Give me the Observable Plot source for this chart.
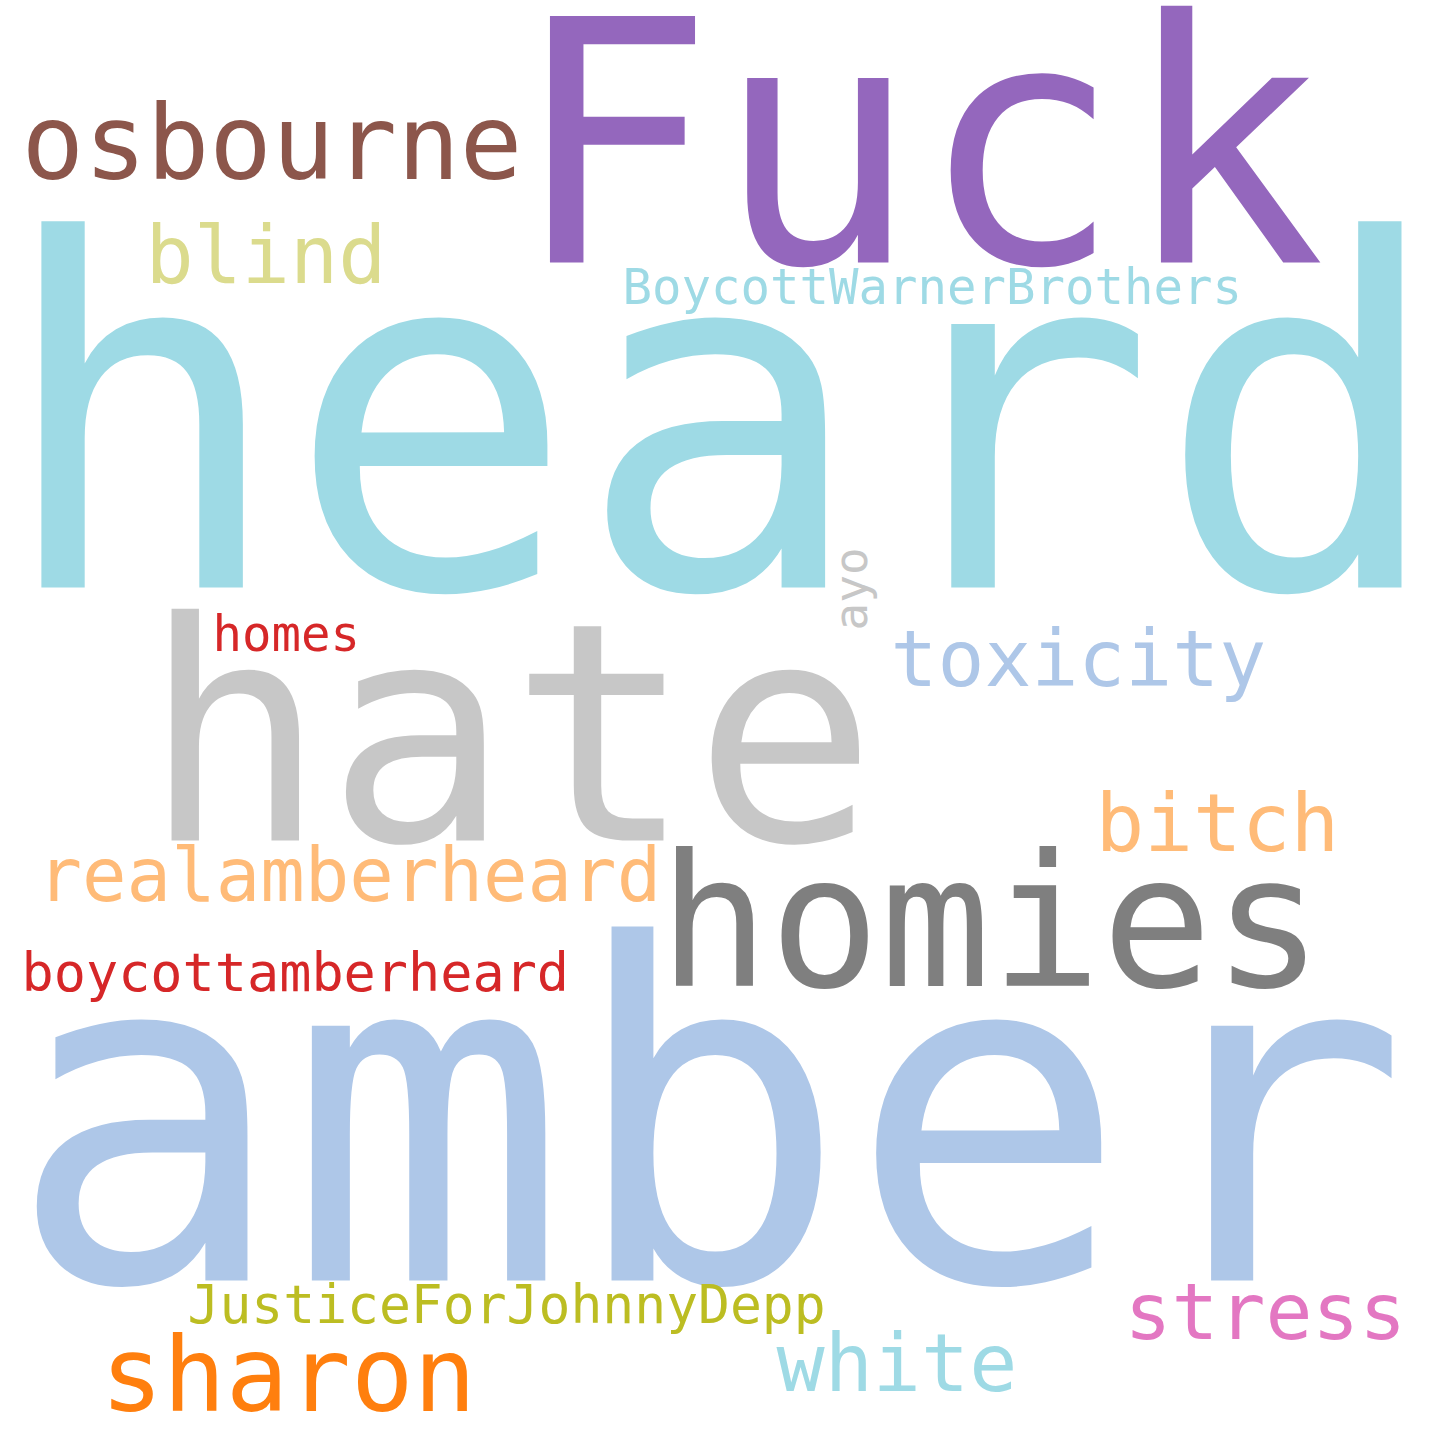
<!DOCTYPE html>
<html lang="en">
<head>
    <meta charset="UTF-8">
    <title>Word cloud</title>
    <script src="https://cdn.jsdelivr.net/npm/d3@7"></script>
    <script src="https://cdn.jsdelivr.net/npm/@observablehq/plot@0.6"></script>
    <style>
        body { margin: 0; background: #fff; }
        #cloud { width: 1440px; height: 1440px; }
    </style>
</head>
<body>
<div id="cloud"></div>
<script>
    // words of the cloud, with their weight (font size) and placement
    const words = ["heard", "amber", "Fuck", "hate", "homies", "osbourne", "sharon", "blind", "toxicity",
        "bitch", "realamberheard", "stress", "white", "JusticeForJohnnyDepp", "BoycottWarnerBrothers",
        "boycottamberheard", "homes", "ayo"];
    const weights = [482, 466, 338, 305, 184, 104, 104, 80, 78, 81, 74, 78, 80, 53, 49, 53.5, 49, 46];
    const posX = [-5, 6, 511, 142, 658, 21, 100, 145, 890, 1095, 37, 1124, 776, 187, 622, 21, 212, 866];
    const posY = [587, 1280, 262, 840, 985, 178, 1410, 282, 685, 850, 900, 1338, 1390, 1322, 303, 990, 650, 630];
    const angles = [0, 0, 0, 0, 0, 0, 0, 0, 0, 0, 0, 0, 0, 0, 0, 0, 0, -90];
    const colors = ["#9edae5", "#aec7e8", "#9467bd", "#c7c7c7", "#7f7f7f", "#8c564b", "#ff7f0e", "#dbdb8d",
        "#aec7e8", "#ffbb78", "#ffbb78", "#e377c2", "#9edae5", "#bcbd22", "#9edae5", "#d62728", "#d62728", "#c7c7c7"];

    const data = words.map((w, i) => ({word: w, size: weights[i], x: posX[i], y: posY[i], rotate: angles[i], color: colors[i]}));

    const plot = Plot.plot({
        width: 1440,
        height: 1440,
        margin: 0,
        x: {domain: [0, 1440], range: [0, 1440], axis: null},
        y: {domain: [0, 1440], range: [0, 1440], axis: null},
        color: {type: "identity"},
        style: {background: "#fff"},
        marks: [
            Plot.text(data, {
                x: "x",
                y: "y",
                text: "word",
                fontSize: "size",
                rotate: "rotate",
                fill: "color",
                textAnchor: "start",
                lineAnchor: "bottom",
                fontFamily: "DejaVu Sans Mono"
            })
        ]
    });
    document.querySelector("#cloud").append(plot);
</script>
</body>
</html>
